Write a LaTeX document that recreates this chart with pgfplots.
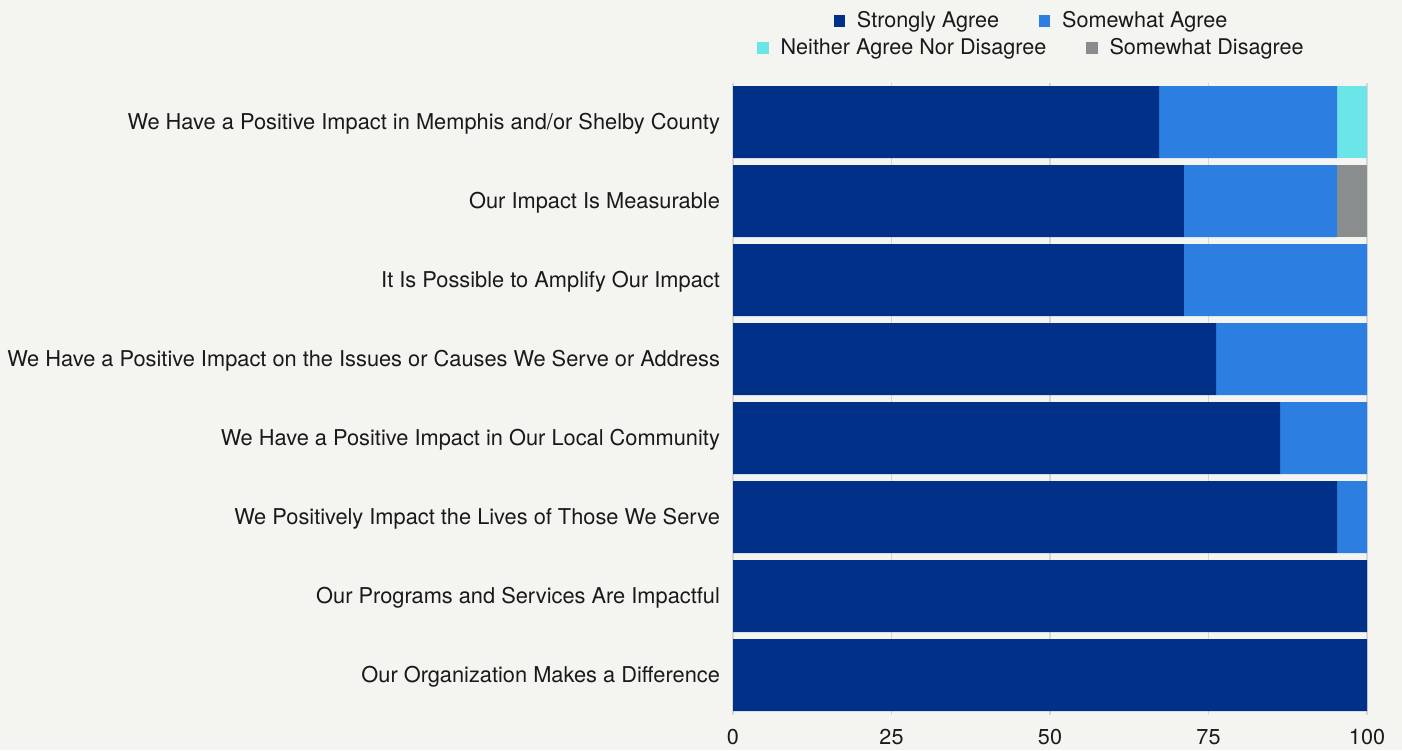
\documentclass[border=0pt]{standalone}
\usepackage{pgfplots}
\pgfplotsset{compat=1.18}
\usepackage{fontspec}
\setmainfont{TeX Gyre Heros}

\definecolor{bg}{HTML}{F4F5F0}
\definecolor{navy}{HTML}{003087}
\definecolor{midblue}{HTML}{2C7FE0}
\definecolor{cyanish}{HTML}{6BE5E8}
\definecolor{greyish}{HTML}{8A8D8E}
\definecolor{txt}{HTML}{1A1A1A}
\definecolor{gridc}{HTML}{D6D6D2}

% y index: 0 = top row
\pgfplotstableread{
y strongly somewhat neither disagree
0 67.2 28.1 4.7 0
1 71.1 24.2 0   4.7
2 71.1 28.9 0   0
3 76.2 23.8 0   0
4 86.3 13.7 0   0
5 95.3 4.7  0   0
6 100  0    0   0
7 100  0    0   0
}\impact

\pgfplotsset{
  sq/.style={legend image code/.code={\path[##1] (0pt,-2.8pt) rectangle (5.6pt,2.8pt);}},
  legrow/.style={
    legend columns=2,
    legend style={draw=none, fill=none, font=\fontsize{10.8}{12}\selectfont\color{txt},
      anchor=center, column sep=0pt,
      /tikz/every odd column/.append style={column sep=4pt},
      /tikz/every even column/.append style={column sep=18pt},
      inner sep=0pt, row sep=0pt},
    legend cell align=left,
  },
}

\begin{document}
\begin{tikzpicture}
\fill[bg] (0,0) rectangle (701pt,375pt);
\useasboundingbox (0,0) rectangle (701pt,375pt);
\begin{axis}[
  at={(366.5pt,17.75pt)}, anchor=south west,
  scale only axis, width=317pt, height=316pt,
  xbar stacked, bar width=36pt,
  y dir=reverse,
  xmin=0, xmax=100, ymin=-0.5, ymax=7.5,
  xtick={0,25,50,75,100},
  ytick={0,...,7},
  yticklabels={
    We Have a Positive Impact in Memphis and/or Shelby County,
    Our Impact Is Measurable,
    It Is Possible to Amplify Our Impact,
    We Have a Positive Impact on the Issues or Causes We Serve or Address,
    We Have a Positive Impact in Our Local Community,
    We Positively Impact the Lives of Those We Serve,
    Our Programs and Services Are Impactful,
    Our Organization Makes a Difference},
  xmajorgrids, major grid style={gridc, line width=0.6pt},
  axis line style={draw=none},
  major tick length=0pt,
  /pgf/number format/assume math mode=true,
  tick label style={font=\fontsize{10.8}{12}\selectfont, text=txt},
  yticklabel style={font=\fontsize{10.9}{12}\selectfont, xshift=-3pt, yshift=-1pt},
  xticklabel style={yshift=-4pt},
  legrow,
  legend style={at={(0.4724,1.0973)}},
]
\addplot[fill=navy, draw=none, sq] table[x=strongly, y=y] {\impact};
\addlegendentry{Strongly Agree}
\addplot[fill=midblue, draw=none, sq] table[x=somewhat, y=y] {\impact};
\addlegendentry{Somewhat Agree}
\addplot[fill=cyanish, draw=none] table[x=neither, y=y] {\impact};
\addplot[fill=greyish, draw=none] table[x=disagree, y=y] {\impact};
\end{axis}
\begin{axis}[
  at={(366.5pt,17.75pt)}, anchor=south west,
  scale only axis, width=317pt, height=316pt,
  hide axis, xmin=0, xmax=1, ymin=0, ymax=1,
  legrow,
  legend style={at={(0.4724,1.0546)}},
]
\addlegendimage{fill=cyanish, draw=none, sq}
\addlegendentry{Neither Agree Nor Disagree}
\addlegendimage{fill=greyish, draw=none, sq}
\addlegendentry{Somewhat Disagree}
\end{axis}
\end{tikzpicture}
\end{document}
